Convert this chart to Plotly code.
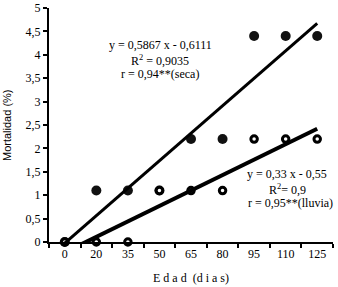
import plotly.graph_objects as go

# ---- data ----
edad_labels = ["0", "20", "35", "50", "65", "80", "95", "110", "125"]
x_index = [1, 2, 3, 4, 5, 6, 7, 8, 9]
seca = [0, 1.1, 1.1, 1.1, 2.2, 2.2, 4.4, 4.4, 4.4]
lluvia = [0, 0, 0, 1.1, 1.1, 1.1, 2.2, 2.2, 2.2]
seca_slope, seca_intercept = 0.5867, -0.6111
lluvia_slope, lluvia_intercept = 0.33, -0.55
y_tickvals = [0, 0.5, 1, 1.5, 2, 2.5, 3, 3.5, 4, 4.5, 5]
y_ticktext = ["0", "0,5", "1", "1,5", "2", "2,5", "3", "3,5", "4", "4,5", "5"]

serif = "Liberation Serif"
sans = "Liberation Sans"

L, R, T, B = 49, 5, 8, 45
W, H = 338, 287

fig = go.Figure()

fig.add_trace(go.Scatter(
    x=x_index, y=seca, mode="markers", cliponaxis=False,
    marker=dict(size=10, color="#111111", line=dict(width=0)),
    showlegend=False))
fig.add_trace(go.Scatter(
    x=x_index, y=lluvia, mode="markers", cliponaxis=False,
    marker=dict(size=6.5, color="white", line=dict(width=3, color="black")),
    showlegend=False))

xl = [x_index[0], x_index[-1]]
fig.add_trace(go.Scatter(
    x=xl, y=[seca_slope * v + seca_intercept for v in xl], mode="lines",
    line=dict(color="black", width=3), showlegend=False))
fig.add_trace(go.Scatter(
    x=xl, y=[lluvia_slope * v + lluvia_intercept for v in xl], mode="lines",
    line=dict(color="black", width=4), showlegend=False))

pw = W - L - R
ph = H - T - B


def px2paper(px, py):
    return (px - L) / pw, 1 - (py - T) / ph


ann = []
for (px, py), txt in [((160, 45), "y = 0,5867 x - 0,6111"),
                      ((160, 60), "R<sup>2</sup> = 0,9035"),
                      ((160, 74), "r = 0,94**(seca)"),
                      ((287, 174), "y = 0,33 x - 0,55"),
                      ((287, 189), "R<sup>2</sup>= 0,9"),
                      ((290, 203), "r = 0,95**(lluvia)")]:
    ax, ay = px2paper(px, py)
    ann.append(dict(x=ax, y=ay, xref="paper", yref="paper", showarrow=False,
                    text=txt, xanchor="center", yanchor="middle",
                    font=dict(family=serif, size=12)))

# axis titles as annotations
ax, ay = px2paper(191, 278)
ann.append(dict(x=ax, y=ay, xref="paper", yref="paper", showarrow=False,
                text="E d a d  (d i a s)", xanchor="center", yanchor="middle",
                font=dict(family=serif, size=12)))
ax, ay = px2paper(7, 125)
ann.append(dict(x=ax, y=ay, xref="paper", yref="paper", showarrow=False,
                text="Mortalidad (%)", textangle=-90, xanchor="center", yanchor="middle",
                font=dict(family=sans, size=11)))

fig.update_layout(
    width=W, height=H,
    margin=dict(l=L, r=R, t=T, b=B, autoexpand=False),
    paper_bgcolor="white", plot_bgcolor="white",
    font=dict(family=serif, size=12, color="black"),
    xaxis=dict(
        range=[0.5, 9.5], tickmode="array", tickvals=x_index, ticktext=edad_labels,
        ticks="", showgrid=False, zeroline=False, automargin=False,
        showline=True, linecolor="black", linewidth=2,
        tickfont=dict(family=serif, size=12),
        minor=dict(tickmode="array", tickvals=[i + 0.5 for i in range(0, 10)],
                   ticks="outside", ticklen=4, tickwidth=2, tickcolor="black",
                   showgrid=False),
    ),
    yaxis=dict(
        range=[0, 5], tickmode="array", tickvals=y_tickvals, ticktext=y_ticktext,
        ticks="outside", ticklen=4, tickwidth=2, tickcolor="black",
        showgrid=False, zeroline=False, automargin=False,
        showline=True, linecolor="black", linewidth=2,
        tickfont=dict(family=serif, size=12),
    ),
    annotations=ann,
)

fig.write_html("out.html", config={"displayModeBar": False},
               post_script="document.body.style.margin='0px';document.body.style.overflow='hidden';")
